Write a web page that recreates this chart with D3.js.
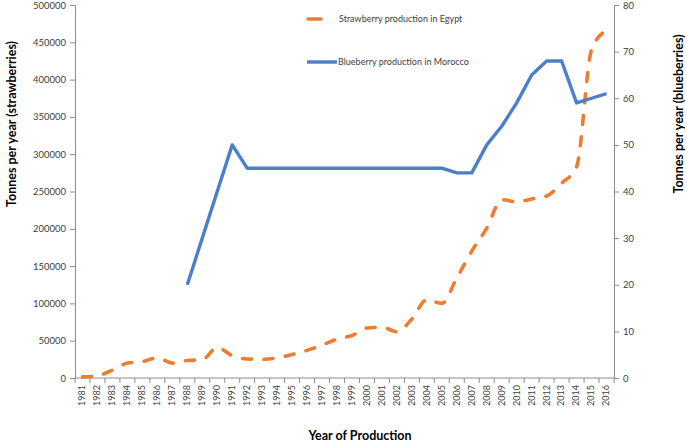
<!DOCTYPE html>
<html>
<head>
<meta charset="utf-8">
<script src="https://cdn.jsdelivr.net/npm/d3@7"></script>
<style>
  html, body { margin: 0; padding: 0; background: #fff; }
  svg { display: block; }
  text { font-family: Lato, "Open Sans", sans-serif; }
</style>
</head>
<body>
<svg id="chart" width="687" height="442"></svg>
<script>
const years = ["1981","1982","1983","1984","1985","1986","1987","1988","1989","1990",
  "1991","1992","1993","1994","1995","1996","1997","1998","1999","2000",
  "2001","2002","2003","2004","2005","2006","2007","2008","2009","2010",
  "2011","2012","2013","2014","2015","2016"];
const strawberryEgypt = [1500, 3000, 10500, 20000, 22000, 27000, 20000, 23500, 24500, 41000,
  30000, 25500, 25000, 27000, 31500, 37000, 44000, 52000, 57000, 67000,
  68000, 62000, 79000, 105000, 100000, 134000, 170000, 201000, 239000, 236000,
  240000, 244000, 261000, 283000, 440000, 466000];
const blueberryMorocco = [null, null, null, null, null, null, null, 20, 30, 40,
  50, 45, 45, 45, 45, 45, 45, 45, 45, 45,
  45, 45, 45, 45, 45, 44, 44, 50, 54, 59,
  65, 68, 68, 59, 60, 61];
const leftTicks = [0, 50000, 100000, 150000, 200000, 250000, 300000, 350000, 400000, 450000, 500000];
const rightTicks = [0, 10, 20, 30, 40, 50, 60, 70, 80];
const seriesNames = ["Strawberry production in Egypt", "Blueberry production in Morocco"];
const titles = { left: "Tonnes per year (strawberries)", right: "Tonnes per year (blueberries)", bottom: "Year of Production" };

const orange = "#ED7D31", blue = "#4A80C8", axisCol = "#8C8C8C", textCol = "#404040";
const L = 75, R = 614, T = 5, B = 378;
const svg = d3.select("#chart");

const x = d3.scaleBand().domain(years).range([L, R]).paddingInner(0).paddingOuter(0);
const yL = d3.scaleLinear().domain([0, 500000]).range([B, T]);
const yR = d3.scaleLinear().domain([0, 80]).range([B, T]);
const cx = d => x(d) + x.bandwidth() / 2;

// Left axis
const gL = svg.append("g").attr("transform", `translate(${L},0)`)
  .call(d3.axisLeft(yL).tickValues(leftTicks).tickSize(5).tickPadding(4).tickFormat(d3.format("d")));
gL.select(".domain").attr("stroke", axisCol);
gL.selectAll(".tick line").attr("stroke", axisCol);
gL.selectAll(".tick text").attr("fill", textCol).style("font-size", "9.5px").style("font-family", "Lato, sans-serif");

// Right axis
const gR = svg.append("g").attr("transform", `translate(${R},0)`)
  .call(d3.axisRight(yR).tickValues(rightTicks).tickSize(5).tickPadding(4));
gR.select(".domain").attr("stroke", axisCol);
gR.selectAll(".tick line").attr("stroke", axisCol);
gR.selectAll(".tick text").attr("fill", textCol).style("font-size", "9.5px").style("font-family", "Lato, sans-serif");

// Bottom axis (labels centered on categories, ticks at boundaries)
const gB = svg.append("g").attr("transform", `translate(0,${B})`)
  .call(d3.axisBottom(x).tickSize(0).tickPadding(0));
gB.select(".domain").remove();
gB.append("line").attr("x1", L).attr("x2", R).attr("y1", 0).attr("y2", 0).attr("stroke", axisCol);
gB.selectAll(".tick text")
  .attr("transform", "rotate(-90)")
  .attr("x", -7).attr("y", 0).attr("dy", "0.32em")
  .attr("text-anchor", "end")
  .attr("fill", textCol).style("font-size", "9px").style("font-family", "Lato, sans-serif");
gB.selectAll(".bnd").data(years.concat(["end"])).enter().append("line")
  .attr("class", "bnd")
  .attr("x1", d => d === "end" ? R : x(d)).attr("x2", d => d === "end" ? R : x(d))
  .attr("y1", 0).attr("y2", 5).attr("stroke", axisCol);

// Lines
const sLine = d3.line().curve(d3.curveMonotoneX).x((d, i) => cx(years[i])).y(d => yL(d));
svg.append("path").datum(strawberryEgypt)
  .attr("d", sLine).attr("fill", "none").attr("stroke", orange)
  .attr("stroke-width", 3.6).attr("stroke-dasharray", "9,12.5").attr("stroke-linecap", "round")
  .attr("stroke-linejoin", "round");

const bLine = d3.line().defined(d => d !== null).x((d, i) => cx(years[i])).y(d => yR(d));
svg.append("path").datum(blueberryMorocco)
  .attr("d", bLine).attr("fill", "none").attr("stroke", blue)
  .attr("stroke-width", 3.4).attr("stroke-linejoin", "round");

// Legend
const lg = svg.append("g");
lg.append("line").attr("x1", 308).attr("x2", 321).attr("y1", 19).attr("y2", 19)
  .attr("stroke", orange).attr("stroke-width", 3.6).attr("stroke-linecap", "round");
lg.append("text").attr("x", 339).attr("y", 19).attr("dy", "0.35em")
  .attr("fill", textCol).style("font-size", "9px").text(seriesNames[0]);
lg.append("line").attr("x1", 307).attr("x2", 337).attr("y1", 62).attr("y2", 62)
  .attr("stroke", blue).attr("stroke-width", 3.4);
lg.append("text").attr("x", 338).attr("y", 62).attr("dy", "0.35em")
  .attr("fill", textCol).style("font-size", "9px").text(seriesNames[1]);

// Axis titles
svg.append("text").attr("transform", "translate(16,124) rotate(-90)")
  .attr("text-anchor", "middle").attr("font-weight", "bold").attr("fill", "#000")
  .style("font-size", "12.5px").text(titles.left);
svg.append("text").attr("transform", "translate(683,114) rotate(-90)")
  .attr("text-anchor", "middle").attr("font-weight", "bold").attr("fill", "#000")
  .style("font-size", "12.5px").text(titles.right);
svg.append("text").attr("x", 360).attr("y", 440)
  .attr("text-anchor", "middle").attr("font-weight", "bold").attr("fill", "#000")
  .style("font-size", "12.5px").text(titles.bottom);
</script>
</body>
</html>
